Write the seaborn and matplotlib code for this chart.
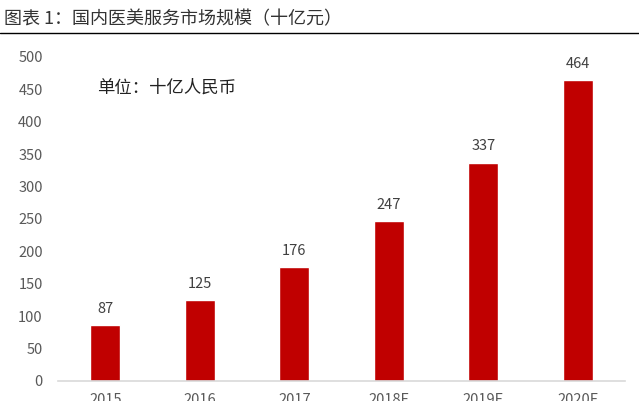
import matplotlib
matplotlib.use("Agg")
import matplotlib.pyplot as plt
import seaborn as sns
import pandas as pd

years = ["2015", "2016", "2017", "2018E", "2019E", "2020E"]
market_size = [87, 125, 176, 247, 337, 464]
yticks = [0, 50, 100, 150, 200, 250, 300, 350, 400, 450, 500]

sns.set_theme(style="white")
plt.rcParams["font.family"] = ["Noto Sans CJK SC", "DejaVu Sans"]

df = pd.DataFrame({"year": years, "size": market_size})

fig = plt.figure(figsize=(6.39, 4.01), dpi=100)
ax = fig.add_axes([0.091, 0.05, 0.887, 0.808])

sns.barplot(data=df, x="year", y="size", color="#C00000", saturation=1,
            width=0.32, ax=ax)

ax.set_ylim(0, 500)
ax.set_xlim(-0.5, len(years) - 0.5)
ax.set_yticks(yticks)
ax.set_xlabel("")
ax.set_ylabel("")
for s in ["top", "right", "left"]:
    ax.spines[s].set_visible(False)
ax.spines["bottom"].set_color("#d9d9d9")
ax.spines["bottom"].set_linewidth(1.2)
ax.tick_params(axis="y", length=0, pad=11, labelsize=10.5, labelcolor="#595959")
ax.tick_params(axis="x", length=0, pad=9, labelsize=10.5, labelcolor="#595959")

for i, v in enumerate(market_size):
    ax.text(i, v + 14, str(v), ha="center", va="bottom",
            fontsize=10.5, color="#404040")

ax.text(0.069, 0.905, "单位：十亿人民币", transform=ax.transAxes,
        fontsize=12.5, color="#222222", va="center", ha="left")

fig.text(0.006, 0.953, "图表 1：国内医美服务市场规模（十亿元）",
         fontsize=13, color="#333333", va="center", ha="left")
fig.add_artist(plt.Line2D([0, 1], [0.918, 0.918], color="black", lw=1,
                          transform=fig.transFigure))

fig.savefig("out.png", dpi=100)
